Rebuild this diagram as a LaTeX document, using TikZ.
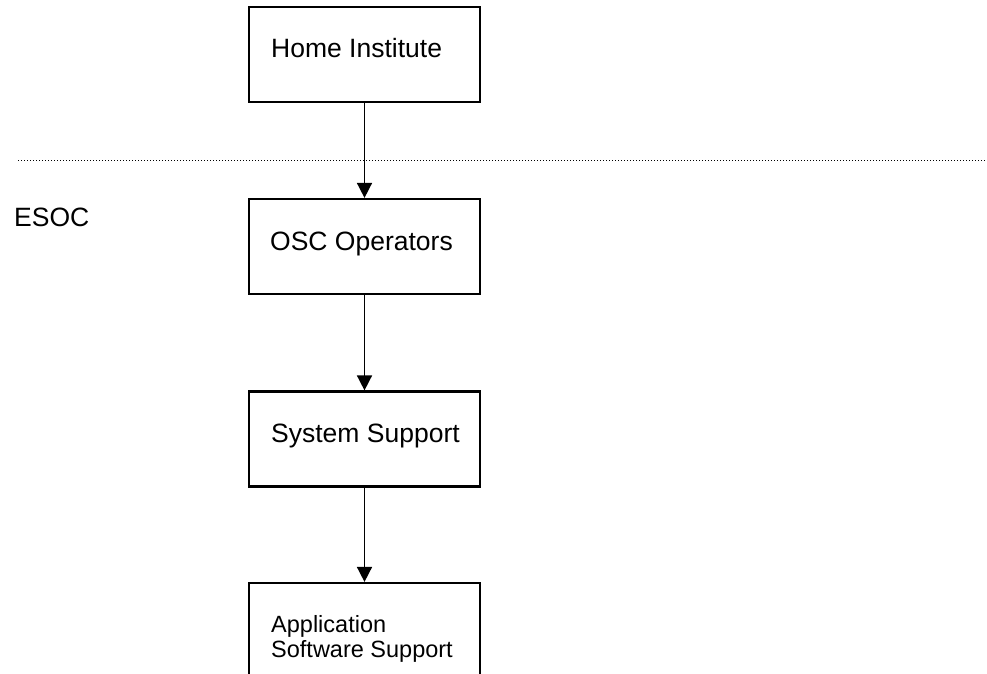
\documentclass[tikz,border=0pt]{standalone}
\usepackage{fontspec}
\setmainfont{Liberation Sans}
\usetikzlibrary{arrows.meta}
\tikzset{
  box/.style={draw=black, line width=2.2pt, minimum width=231pt, minimum height=95pt, inner sep=0pt},
  lbl/.style={anchor=base west, inner sep=0pt, font=\fontsize{26.5}{30}\selectfont},
  smalllbl/.style={anchor=base west, inner sep=0pt, align=left, font=\fontsize{23.5}{25}\selectfont},
  flow/.style={line width=1.6pt, -{Triangle[width=15pt,length=15pt]}},
  sep/.style={line width=1pt, dash pattern=on 1.2pt off 1.8pt}
}
\begin{document}
\begin{tikzpicture}[x=1pt,y=-1pt]
\useasboundingbox (0,0) rectangle (987,674);
\clip (0,0) rectangle (987,674);
\node[box] (hi) at (364.5,54.5) {};
\node[box] (osc) at (364.5,246.5) {};
\node[box] (sys) at (364.5,439) {};
\node[box] (app) at (364.5,630.5) {};
\node[lbl] (hit) at (271,58) {Home Institute};
\node[lbl] (osct) at (270,250) {OSC Operators};
\node[lbl] (syst) at (271,442) {System Support};
\node[smalllbl] (appt) at (271,657) {Application\\Software Support};
\node[lbl] (esoc) at (14,226) {ESOC};
\coordinate (sepL) at (18,160);
\coordinate (sepR) at (985,160);
\draw[sep] (sepL) -- (sepR);
\draw[flow] (hi.south) -- (osc.north);
\draw[flow] (osc.south) -- (sys.north);
\draw[flow] (sys.south) -- (app.north);
\end{tikzpicture}
\end{document}
